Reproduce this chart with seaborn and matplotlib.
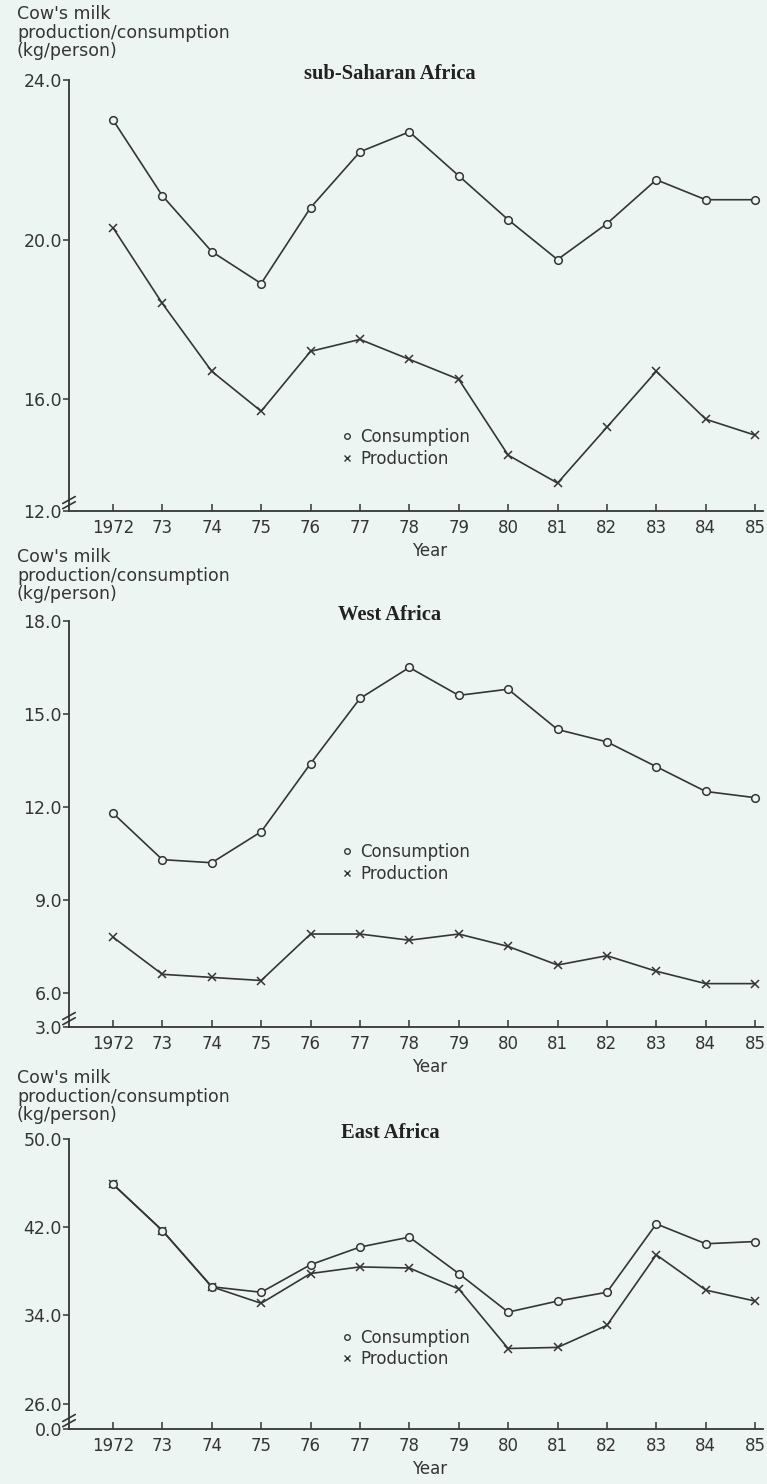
import pandas as pd
import seaborn as sns
import matplotlib.pyplot as plt
from matplotlib.lines import Line2D

# data (kg/person)
years = list(range(1972, 1986))
year_labels = ['1972', '73', '74', '75', '76', '77', '78', '79', '80', '81', '82', '83', '84', '85']

ssa_consumption = [23.0, 21.1, 19.7, 18.9, 20.8, 22.2, 22.7, 21.6, 20.5, 19.5, 20.4, 21.5, 21.0, 21.0]
ssa_production = [20.3, 18.4, 16.7, 15.7, 17.2, 17.5, 17.0, 16.5, 14.6, 13.9, 15.3, 16.7, 15.5, 15.1]

west_consumption = [11.8, 10.3, 10.2, 11.2, 13.4, 15.5, 16.5, 15.6, 15.8, 14.5, 14.1, 13.3, 12.5, 12.3]
west_production = [7.8, 6.6, 6.5, 6.4, 7.9, 7.9, 7.7, 7.9, 7.5, 6.9, 7.2, 6.7, 6.3, 6.3]

east_consumption = [45.9, 41.7, 36.6, 36.1, 38.6, 40.2, 41.1, 37.8, 34.3, 35.3, 36.1, 42.3, 40.5, 40.7]
east_production = [45.9, 41.7, 36.6, 35.1, 37.8, 38.4, 38.3, 36.4, 31.0, 31.1, 33.1, 39.5, 36.3, 35.3]

titles = ['sub-Saharan Africa', 'West Africa', 'East Africa']
ytick_values = [[16, 20, 24], [6, 9, 12, 15, 18], [26, 34, 42, 50]]
ytick_labels = [['16.0', '20.0', '24.0'], ['6.0', '9.0', '12.0', '15.0', '18.0'], ['26.0', '34.0', '42.0', '50.0']]
break_labels = ['12.0', '3.0', '0.0']   # label shown at the broken bottom of each axis
y_bottoms = [13.2, 4.9, 23.7]
y_tops = [24, 18, 50]

bg = '#ecf5f2'
ink = '#353535'

sns.set_theme(style='ticks')
plt.rcParams['font.family'] = ['DejaVu Sans']

fig = plt.figure(figsize=(7.67, 14.84), dpi=100)
fig.patch.set_facecolor(bg)

H = 1484.0
W = 767.0
# axes boxes in pixels: (top, bottom)
boxes = [(80, 511), (621, 1027), (1139, 1429)]
left_px, right_px = 69, 763
header_tops = [5, 548, 1069]
legend_y = [0.146, 0.404, 0.278]

series = [(ssa_consumption, ssa_production),
          (west_consumption, west_production),
          (east_consumption, east_production)]

for i, (cons, prod) in enumerate(series):
    top, bot = boxes[i]
    ax = fig.add_axes([left_px / W, 1 - bot / H, (right_px - left_px) / W, (bot - top) / H])
    ax.set_facecolor(bg)

    sns.lineplot(x=years, y=prod, marker='x', color=ink, linewidth=1.2,
                 markersize=5.5, markeredgecolor=ink, markeredgewidth=1.1, ax=ax)
    sns.lineplot(x=years, y=cons, marker='o', color=ink, linewidth=1.2,
                 markersize=5.5, markerfacecolor=bg, markeredgecolor=ink,
                 markeredgewidth=1.1, ax=ax)

    ax.set_xlim(1971.11, 1985.16)
    ax.set_ylim(y_bottoms[i], y_tops[i])
    ax.set_xticks(years)
    ax.set_xticklabels(year_labels)
    ax.set_yticks([y_bottoms[i]] + ytick_values[i])
    ax.set_yticklabels([break_labels[i]] + ytick_labels[i])

    for s in ['top', 'right']:
        ax.spines[s].set_visible(False)
    for s in ['left', 'bottom']:
        ax.spines[s].set_color(ink)
        ax.spines[s].set_linewidth(1.3)
    ax.tick_params(axis='x', direction='in', length=5, width=1.1, color=ink,
                   labelsize=12, labelcolor=ink, pad=6)
    ax.tick_params(axis='y', direction='out', length=4, width=1.1, color=ink,
                   labelsize=12.5, labelcolor=ink, pad=1)

    ax.set_xlabel('Year', fontsize=12, color=ink)
    ax.xaxis.set_label_coords(0.52, -31 / (bot - top))
    ax.set_ylabel('')

    ax.text(0.4625, 1 + 6 / (bot - top), titles[i], transform=ax.transAxes,
            ha='center', va='center', fontsize=14.8, fontweight='bold',
            family='Liberation Serif', color='#222222')

    fig.text(17 / W, 1 - header_tops[i] / H,
             "Cow's milk\nproduction/consumption\n(kg/person)",
             ha='left', va='top', fontsize=12.5, color=ink, linespacing=1.05)

    # axis break mark near the bottom of the y axis
    k = 290 / (bot - top)
    dy = 11 / (bot - top)
    ax.plot([-0.009, 0.009], [dy - 0.012 * k, dy + 0.012 * k],
            transform=ax.transAxes, color=ink, lw=1.2, clip_on=False)
    ax.plot([-0.009, 0.009], [dy - 0.030 * k, dy - 0.006 * k],
            transform=ax.transAxes, color=ink, lw=1.2, clip_on=False)

    handles = [Line2D([], [], ls='none', marker='o', ms=4, mfc=bg, mec=ink, mew=1.0),
               Line2D([], [], ls='none', marker='x', ms=4, mec=ink, mew=1.0)]
    ax.legend(handles, ['Consumption', 'Production'], loc='center left',
              bbox_to_anchor=(0.393, legend_y[i]), frameon=False, fontsize=12,
              handlelength=0.6, handletextpad=0.5, labelspacing=0.22,
              borderaxespad=0, borderpad=0, labelcolor=ink)

fig.savefig('out.png', dpi=100, facecolor=bg)
